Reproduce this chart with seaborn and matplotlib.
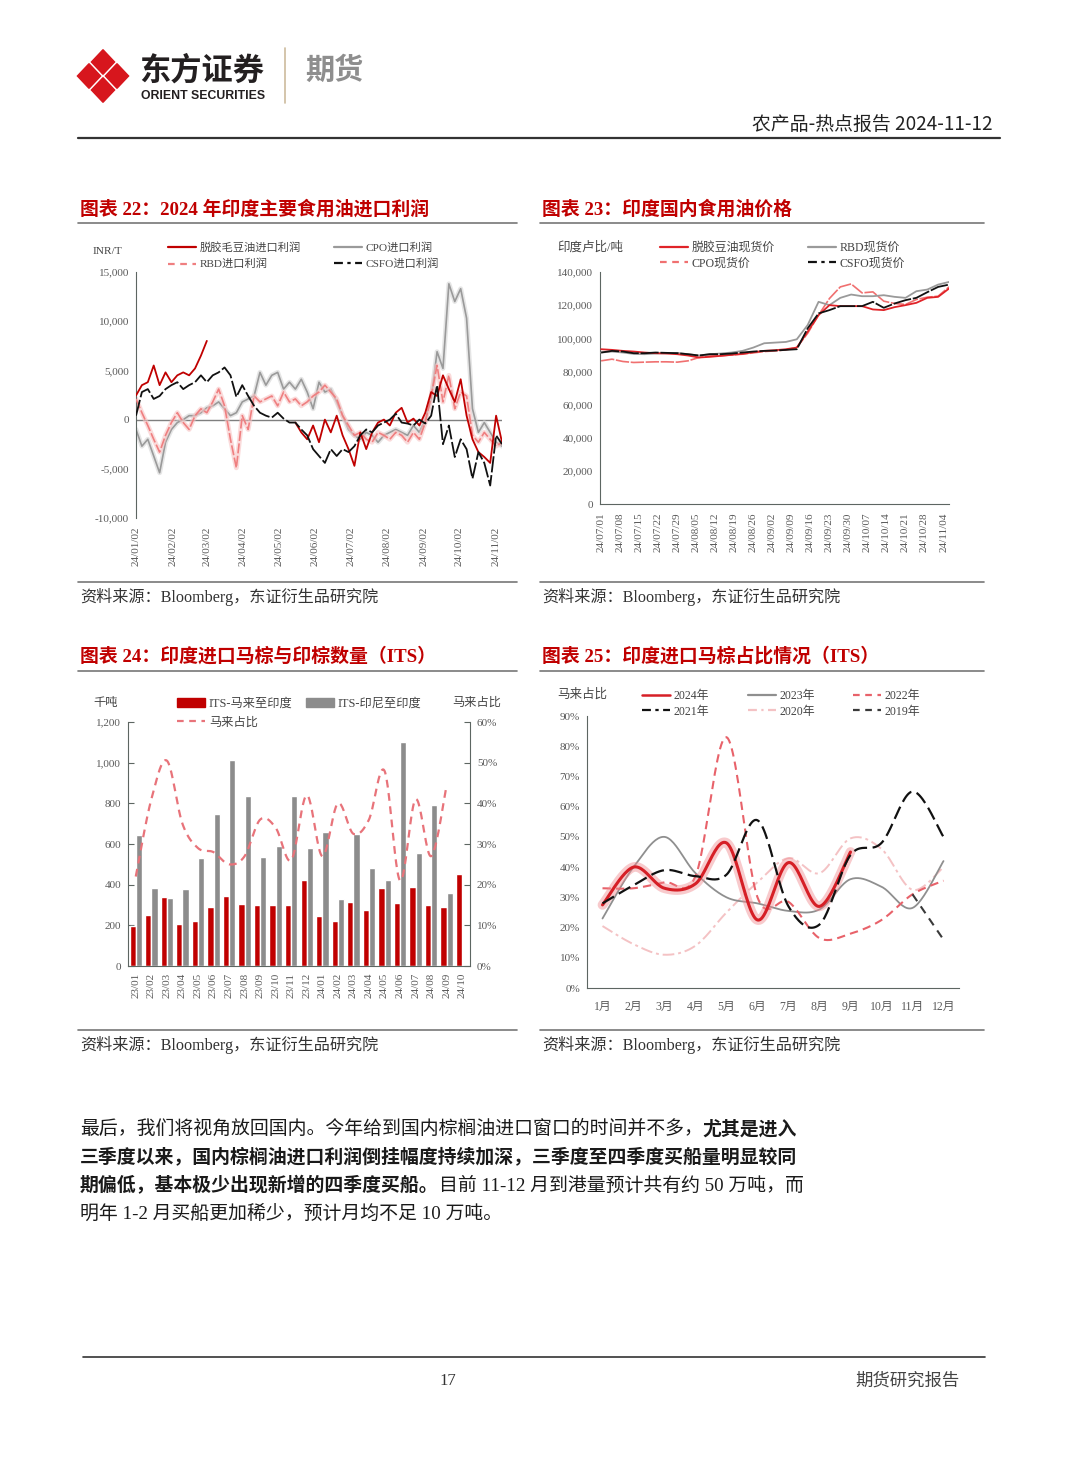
import numpy as np
import pandas as pd
import matplotlib
matplotlib.use('Agg')
import matplotlib.pyplot as plt
import matplotlib.ticker as mticker
import seaborn as sns
from matplotlib.lines import Line2D
from matplotlib.patches import Patch, Polygon
from matplotlib.font_manager import FontProperties

nan = np.nan

# ---------------- data: 图表22 印度主要食用油进口利润 (INR/T), every 5 days ----------------
dates22 = pd.date_range('2024-01-02', periods=63, freq='5D')
soy22 = [2450, 3500, 3800, 5500, 3500, 4800, 3800, 4500, 4800, 4500, 5200, 6500, 8000,
         nan, nan, nan, nan, nan, nan, nan, nan, nan, nan, nan, nan, nan, nan,
         -300, -1300, -2000, -600, -2300, 0, -1300, 400, -1600, -3000, -4700, -1300, -3000,
         -1300, -300, 0, -600, 700, 1200, -300, 100, -600, 700, 2800, 2400, 4500, 3100,
         1800, 4100, 400, -2000, -3300, -3800, -4400, 400, -2300]
cpo22 = [-1000, -2700, -2000, -3700, -5400, -2300, -1000, -300, 0, 400,
         400, 700, 1200, 1400, 1800, 1100, 400, 700, 1800, 2100,
         2400, 4800, 3500, 4500, 4800, 3100, 3800, 3100, 4100, 2800,
         1100, 3800, 2800, 3100, 1800, 400, -1000, -1600, -2000, -1300,
         -1600, -2300, -1600, -1300, -1000, -1300, -1600, -600, -1300, 0,
         2100, 6900, 5200, 13800, 12000, 13300, 10300, 1100, -1300, -300,
         -1300, -2300, -2700]
rbd22 = [2100, 700, -600, -2000, -3300, -1600, -300, 700, -300, -1000,
         400, 1100, 700, 1800, 3100, 1400, -2000, -4900, 400, -1000,
         2400, 1800, 2100, 2400, 1400, 2800, 1800, 2100, 1400, 1800,
         2400, 2800, 3500, 2800, 2100, 400, -600, -1600, -1300, -2000,
         -2300, -1300, -1600, -2000, -1300, -1600, -2300, -1300, -2000, -300,
         2400, 5500, 1800, 4500, 1100, 2800, 2400, -1600, -2300, -1300,
         -2000, -2700, -2300]
csfo22 = [400, 2800, 3100, 2100, 2400, 3100, 3500, 3800, 3100, 3500,
          3800, 4500, 3800, 4500, 4800, 5300, 4500, 2300, 3500, 2400,
          1400, 700, 400, 200, 700, 100, -300, -300, -1000, -1600,
          -3000, -3700, -4400, -3000, -3700, -3000, -3300, -2700, -1600, -1000,
          -1300, -600, -300, 0, 600, -300, -400, -600, 0, -400,
          400, 3500, -2500, -600, -3800, -2000, -3000, -6000, -3300, -4400,
          -6700, -1600, -2500]
ticks22 = [pd.Timestamp(2024, m, 2) for m in range(1, 12)]

# ---------------- data: 图表23 印度国内食用油价格 (印度卢比/吨), every 4 days ----------------
dates23 = pd.date_range('2024-07-01', periods=33, freq='4D')
soy23 = [93400, 93000, 92400, 92000, 91400, 91000, 90800, 90400, 89600, 88400,
         88800, 89400, 90000, 90600, 91600, 92400, 92800, 93400, 94400, 104000,
         114000, 120000, 119400, 119400, 119400, 117400, 117000, 118800, 120000, 121400,
         124400, 125000, 130000]
rbd23 = [91400, 92000, 91400, 90600, 90400, 90800, 91000, 91200, 90400, 89600,
         90400, 90800, 91400, 92400, 94400, 97000, 97400, 97800, 99400, 108000,
         122000, 120000, 124400, 126400, 125400, 125400, 126000, 125000, 124400, 128400,
         129400, 132400, 134000]
cpo23 = [86400, 87400, 86000, 85400, 85600, 85800, 85800, 85600, 86400, 88400,
         89400, 89400, 90000, 90400, 91200, 92000, 92400, 93000, 94400, 103000,
         114000, 124000, 131000, 132800, 127400, 128000, 122400, 121000, 120400, 123400,
         124800, 125400, 131000]
csfo23 = [91400, 92400, 92000, 91000, 91000, 91400, 91200, 91000, 90400, 89600,
          90400, 90400, 90800, 91400, 92000, 92400, 92600, 93000, 93400, 106000,
          115000, 117000, 119400, 119400, 119400, 122000, 118400, 121000, 123000, 124400,
          127800, 131000, 132400]
ticks23 = pd.date_range('2024-07-01', '2024-11-04', freq='7D')

# ---------------- data: 图表24 印度进口马棕与印棕数量 (千吨) ----------------
months24 = ['23/01', '23/02', '23/03', '23/04', '23/05', '23/06', '23/07', '23/08', '23/09', '23/10',
            '23/11', '23/12', '24/01', '24/02', '24/03', '24/04', '24/05', '24/06', '24/07', '24/08',
            '24/09', '24/10']
my_in = [195, 253, 339, 208, 220, 291, 344, 307, 301, 302, 302, 421, 246, 221, 316, 274, 385, 311,
         390, 298, 289, 453]
id_in = [645, 382, 336, 379, 531, 748, 1013, 836, 534, 592, 836, 582, 658, 331, 648, 481, 421, 1102,
         554, 792, 360, nan]
my_share = [22, 41, 50.5, 35, 29, 28, 25, 27, 36, 34, 26, 42, 27, 40, 32.5, 36, 48, 21, 41, 27, 44.5, nan]

# ---------------- data: 图表25 印度进口马棕占比 (%) ----------------
months25 = list(range(1, 13))
s2024 = [27.5, 40, 33, 34.5, 48, 22.5, 41.5, 27, 45, nan, nan, nan]
s2023 = [23, 40, 50, 38, 30, 28, 25.5, 26, 36, 33.5, 26.5, 42]
s2022 = [33, 33, 35, 37, 83, 30, 28.5, 16.5, 18, 22.5, 31, 35.5]
s2021 = [28, 34, 39, 37, 37.5, 55.5, 27, 21, 44, 48, 65, 50]
s2020 = [20.5, 14.5, 11, 14, 25, 35, 43, 38, 49.5, 46, 32.5, 40]
s2019 = [nan, nan, nan, nan, nan, nan, nan, nan, nan, nan, 31, 16]

# ---------------- style ----------------
sns.set_style('white')
MIX = ['Liberation Serif', 'Noto Sans CJK SC', 'DejaVu Sans']
plt.rcParams['font.family'] = MIX
plt.rcParams['axes.unicode_minus'] = False

W, H = 1080, 1466
fig = plt.figure(figsize=(10.8, 14.66), dpi=100)


def fx(x):
    return x / W


def fy(y):
    return 1 - y / H


def box(l, t, r, b):
    return [fx(l), fy(b), (r - l) / W, (b - t) / H]


def fp(size, bold=False, family=MIX):
    return FontProperties(family=family, size=size, weight='bold' if bold else 'normal')


def hline(x0, x1, y, color='#777777', lw=1.2):
    fig.add_artist(Line2D([fx(x0), fx(x1)], [fy(y), fy(y)], color=color, lw=lw,
                          transform=fig.transFigure))


def text(x, y, s, size, color='#222222', bold=False, ha='left', va='center', family=MIX):
    return fig.text(fx(x), fy(y), s, fontproperties=fp(size, bold, family), color=color,
                    ha=ha, va=va)


def segs(x, y):
    d = pd.DataFrame({'x': x, 'y': y})
    d['seg'] = d['y'].isna().cumsum()
    return d.dropna()


def catmull(xs, ys, n=24):
    pts = np.column_stack([xs, ys]).astype(float)
    if len(pts) < 3:
        return pts[:, 0], pts[:, 1]
    P = np.vstack([pts[0], pts, pts[-1]])
    t = np.linspace(0, 1, n, endpoint=False)[:, None]
    out = []
    for i in range(1, len(P) - 2):
        p0, p1, p2, p3 = P[i - 1], P[i], P[i + 1], P[i + 2]
        out.append(0.5 * (2 * p1 + (-p0 + p2) * t + (2 * p0 - 5 * p1 + 4 * p2 - p3) * t ** 2
                          + (-p0 + 3 * p1 - 3 * p2 + p3) * t ** 3))
    out.append(pts[-1:])
    out = np.vstack(out)
    return out[:, 0], out[:, 1]


def smooth_segs(x, y):
    d = segs(x, y)
    parts = []
    for k, g in d.groupby('seg'):
        sx, sy = catmull(g['x'].values, g['y'].values)
        parts.append(pd.DataFrame({'x': sx, 'y': sy, 'seg': k}))
    return pd.concat(parts, ignore_index=True)


def draw(ax, d, color, lw, ls='-', glow=None, z=2):
    kws = dict(data=d, x='x', y='y', units='seg', estimator=None, ax=ax, legend=False, sort=False)
    if glow:
        sns.lineplot(**kws, color=glow[0], lw=glow[1], alpha=glow[2], zorder=z - 0.5,
                     solid_capstyle='round')
    sns.lineplot(**kws, color=color, lw=lw, linestyle=ls, zorder=z)


def legend(handles, labels, x, y, size=8.1, spacing=0.45):
    fig.legend(handles, labels, loc='upper left', bbox_to_anchor=(fx(x), fy(y)),
               frameon=False, borderpad=0, borderaxespad=0, handlelength=2.7 * 7.5 / size,
               handletextpad=0.3, labelspacing=spacing, prop=fp(size), labelcolor='#444444')


SPINE = '#5d6662'
TICKC = '#5a5a5a'
TS = 8
thousands = mticker.FuncFormatter(lambda v, p: f'{v:,.0f}')
pct = mticker.FuncFormatter(lambda v, p: f'{v:.0f}%')

# ---------------- header ----------------
for cx, cy in [(103, 62), (103, 90), (89, 76), (117, 76)]:
    fig.add_artist(Polygon([(fx(cx), fy(cy - 12.3)), (fx(cx + 11.6), fy(cy)), (fx(cx), fy(cy + 12.3)),
                            (fx(cx - 11.6), fy(cy))], closed=True, color='#d7161d',
                           transform=fig.transFigure))
text(139, 71, '东方证券', 22.5, color='#231f20', bold=True, family=['Noto Sans CJK SC'])
text(141, 96, 'ORIENT SECURITIES', 8.8, color='#231f20', bold=True, family=['Liberation Sans'])
fig.add_artist(Line2D([fx(285), fx(285)], [fy(48), fy(103)], color='#cdbb9d', lw=1.2,
                      transform=fig.transFigure))
text(305, 70, '期货', 21, color='#8e8e8e', bold=True, family=['Noto Sans CJK SC'])
text(993, 124, '农产品-热点报告 2024-11-12', 13.6, color='#222222', ha='right',
     family=['Noto Sans CJK SC'])
hline(78, 1000, 138, color='#333333', lw=1.6)

# ---------------- titles / frames ----------------
titles = [(80, 209, '图表 22：2024 年印度主要食用油进口利润'), (542, 209, '图表 23：印度国内食用油价格'),
          (80, 656, '图表 24：印度进口马棕与印棕数量（ITS）'), (542, 656, '图表 25：印度进口马棕占比情况（ITS）')]
for x, y, s in titles:
    text(x, y, s, 13.6, color='#c00000', bold=True)
for x0, x1 in [(78, 517), (540, 984)]:
    for y in (223, 582, 671, 1030):
        hline(x0, x1, y)
    for y in (597, 1045):
        text(x0 + 2, y, '资料来源：Bloomberg，东证衍生品研究院', 11.6, color='#333333')

# ---------------- 图表22 ----------------
ax1 = fig.add_axes(box(136, 272, 502, 518))
draw(ax1, segs(dates22, cpo22), '#9a9a9a', 1.2, glow=('#d4d4d4', 3.5, 0.6), z=2)
draw(ax1, segs(dates22, rbd22), '#ef7f80', 1.2, ls=(0, (6, 1.5)), glow=('#f8c4c4', 3.5, 0.6), z=3)
draw(ax1, segs(dates22, soy22), '#c00000', 1.3, z=4)
draw(ax1, segs(dates22, csfo22), '#111111', 1.3, ls=(0, (9, 1.5)), z=5)
ax1.axhline(0, color='#7f7f7f', lw=1, zorder=1)
ax1.set_xlim(pd.Timestamp('2024-01-02'), pd.Timestamp('2024-11-07'))
ax1.set_ylim(-10000, 15000)
ax1.set_yticks(range(-10000, 15001, 5000))
ax1.yaxis.set_major_formatter(thousands)
ax1.set_xticks(ticks22)
ax1.set_xticklabels([t.strftime('%y/%m/%d') for t in ticks22])
ax1.tick_params(axis='y', direction='in', length=4, color=SPINE, labelsize=TS, labelcolor=TICKC, pad=5)
ax1.tick_params(axis='x', length=0, labelsize=TS, labelcolor=TICKC, pad=6, rotation=90)
for s in ('top', 'right', 'bottom'):
    ax1.spines[s].set_visible(False)
ax1.spines['left'].set_color(SPINE)
ax1.set_xlabel('')
ax1.set_ylabel('')
text(93, 252, 'INR/T', 8.2, color='#444444')
legend([Line2D([], [], color='#c00000', lw=1.6), Line2D([], [], color='#ef7f80', lw=1.6, ls=(0, (3, 2.5)))],
       ['脱胶毛豆油进口利润', 'RBD进口利润'], 168, 242, spacing=0.55)
legend([Line2D([], [], color='#9a9a9a', lw=1.6), Line2D([], [], color='#111111', lw=1.6, ls=(0, (4, 2, 1.5, 2)))],
       ['CPO进口利润', 'CSFO进口利润'], 334, 242, spacing=0.55)

# ---------------- 图表23 ----------------
ax2 = fig.add_axes(box(600, 272, 949, 504))
draw(ax2, segs(dates23, cpo23), '#f07070', 1.2, ls=(0, (8, 1)), z=2)
draw(ax2, segs(dates23, rbd23), '#9a9a9a', 1.3, z=3)
draw(ax2, segs(dates23, soy23), '#e02328', 1.3, z=4)
draw(ax2, segs(dates23, csfo23), '#111111', 1.3, ls=(0, (10, 1)), z=5)
ax2.set_xlim(pd.Timestamp('2024-06-30 14:00'), pd.Timestamp('2024-11-06'))
ax2.set_ylim(0, 140000)
ax2.set_yticks(range(0, 140001, 20000))
ax2.yaxis.set_major_formatter(thousands)
ax2.set_xticks(ticks23)
ax2.set_xticklabels([t.strftime('%y/%m/%d') for t in ticks23])
ax2.tick_params(axis='y', direction='in', length=4, color=SPINE, labelsize=TS, labelcolor=TICKC, pad=5)
ax2.tick_params(axis='x', direction='in', length=4, color=SPINE, labelsize=TS, labelcolor=TICKC,
                pad=6, rotation=90)
for s in ('top', 'right'):
    ax2.spines[s].set_visible(False)
for s in ('left', 'bottom'):
    ax2.spines[s].set_color(SPINE)
ax2.set_xlabel('')
ax2.set_ylabel('')
text(557, 247, '印度卢比/吨', 9, color='#444444')
legend([Line2D([], [], color='#e02328', lw=1.6), Line2D([], [], color='#f07070', lw=1.6, ls=(0, (3, 2.5)))],
       ['脱胶豆油现货价', 'CPO现货价'], 660, 242, size=8.6, spacing=0.3)
legend([Line2D([], [], color='#9a9a9a', lw=1.6), Line2D([], [], color='#111111', lw=1.6, ls=(0, (4, 2, 1.5, 2)))],
       ['RBD现货价', 'CSFO现货价'], 808, 242, size=8.6, spacing=0.3)

# ---------------- 图表24 ----------------
ax3 = fig.add_axes(box(128, 722, 470, 966))
df24 = pd.DataFrame({'月份': months24 * 2, '数量': my_in + id_in,
                     '系列': ['ITS-马来至印度'] * 22 + ['ITS-印尼至印度'] * 22})
sns.barplot(data=df24, x='月份', y='数量', hue='系列', order=months24,
            hue_order=['ITS-马来至印度', 'ITS-印尼至印度'],
            palette={'ITS-马来至印度': '#c00000', 'ITS-印尼至印度': '#8c8c8c'},
            width=0.8, gap=0, saturation=1, errorbar=None, legend=False, ax=ax3)
ax3.set_xlim(-0.5, 21.5)
ax3.set_ylim(0, 1200)
ax3.set_yticks(range(0, 1201, 200))
ax3.yaxis.set_major_formatter(thousands)
ax3.set_xticks(range(22))
ax3.set_xticklabels(months24)
ax3.set_xticks(np.arange(1.5, 21, 2), minor=True)
ax3.tick_params(axis='y', direction='in', length=4, color=SPINE, labelsize=TS, labelcolor=TICKC, pad=5)
ax3.tick_params(axis='x', which='major', length=0, labelsize=TS, labelcolor=TICKC, pad=5, rotation=90)
ax3.tick_params(axis='x', which='minor', direction='in', length=3, color='#888888')
ax3.spines['top'].set_visible(False)
ax3.spines['right'].set_visible(False)
for s in ('left', 'bottom'):
    ax3.spines[s].set_color(SPINE)
ax3.set_xlabel('')
ax3.set_ylabel('')
ax3r = ax3.twinx()
draw(ax3r, smooth_segs(np.arange(22), my_share), '#e8737a', 1.6, ls=(0, (3.5, 2.5)), z=3)
ax3r.set_ylim(0, 60)
ax3r.set_yticks(range(0, 61, 10))
ax3r.yaxis.set_major_formatter(pct)
ax3r.tick_params(axis='y', direction='in', length=4, color=SPINE, labelsize=TS, labelcolor=TICKC, pad=5)
for s in ('top', 'left', 'bottom'):
    ax3r.spines[s].set_visible(False)
ax3r.spines['right'].set_color(SPINE)
ax3r.set_ylabel('')
ax3r.set_xlim(-0.5, 21.5)
text(93, 703, '千吨', 8.8, color='#444444')
text(452, 703, '马来占比', 8.8, color='#444444')
legend([Patch(color='#c00000'), Line2D([], [], color='#e8737a', lw=1.6, ls=(0, (3, 2.5)))],
       ['ITS-马来至印度', '马来占比'], 177, 698, size=8.8, spacing=0.55)
legend([Patch(color='#8c8c8c')], ['ITS-印尼至印度'], 306, 698, size=8.8)

# ---------------- 图表25 ----------------
ax4 = fig.add_axes(box(587, 716, 959, 988))
draw(ax4, smooth_segs(months25, s2020), '#f4c2c4', 1.4, ls=(0, (6, 2, 1.5, 2)), z=2)
draw(ax4, smooth_segs(months25, s2023), '#8f8f8f', 1.3, z=3)
draw(ax4, smooth_segs(months25, s2022), '#e8626a', 1.5, ls=(0, (4, 2.5)), z=4)
draw(ax4, smooth_segs(months25, s2019), '#3a3a3a', 1.5, ls=(0, (4, 3)), z=4)
draw(ax4, smooth_segs(months25, s2024), '#d61f26', 2.2, glow=('#f08a8f', 7, 0.45), z=5)
draw(ax4, smooth_segs(months25, s2021), '#111111', 1.6, ls=(0, (6, 2.5)), z=6)
ax4.set_xlim(0.5, 12.5)
ax4.set_ylim(0, 90)
ax4.set_yticks(range(0, 91, 10))
ax4.yaxis.set_major_formatter(pct)
ax4.set_xticks(months25)
ax4.set_xticklabels([f'{m}月' for m in months25])
ax4.set_xticks(np.arange(0.5, 12.6, 1), minor=True)
ax4.tick_params(axis='y', direction='in', length=4, color=SPINE, labelsize=TS, labelcolor=TICKC, pad=5)
ax4.tick_params(axis='x', which='major', length=0, labelsize=8.5, labelcolor=TICKC, pad=9)
ax4.tick_params(axis='x', which='minor', direction='in', length=4, color=SPINE)
for s in ('top', 'right'):
    ax4.spines[s].set_visible(False)
for s in ('left', 'bottom'):
    ax4.spines[s].set_color(SPINE)
ax4.set_xlabel('')
ax4.set_ylabel('')
text(557, 695, '马来占比', 9, color='#444444')
legend([Line2D([], [], color='#d61f26', lw=1.8), Line2D([], [], color='#111111', lw=1.6, ls=(0, (4, 2, 1.5, 2)))],
       ['2024年', '2021年'], 642, 690, size=8.6, spacing=0.3)
legend([Line2D([], [], color='#8f8f8f', lw=1.6), Line2D([], [], color='#f4c2c4', lw=1.6, ls=(0, (4, 2, 1, 2)))],
       ['2023年', '2020年'], 748, 690, size=8.6, spacing=0.3)
legend([Line2D([], [], color='#e8626a', lw=1.6, ls=(0, (3, 2.5))), Line2D([], [], color='#3a3a3a', lw=1.6, ls=(0, (3, 2.5)))],
       ['2022年', '2019年'], 853, 690, size=8.6, spacing=0.3)

# ---------------- paragraph ----------------
para = [
    [('最后，我们将视角放回国内。今年给到国内棕榈油进口窗口的时间并不多，', False), ('尤其是进入', True)],
    [('三季度以来，国内棕榈油进口利润倒挂幅度持续加深，三季度至四季度买船量明显较同', True)],
    [('期偏低，基本极少出现新增的四季度买船。', True), ('目前 11-12 月到港量预计共有约 50 万吨，而', False)],
    [('明年 1-2 月买船更加稀少，预计月均不足 10 万吨。', False)],
]
renderer = fig.canvas.get_renderer()
for y, parts in zip([1129, 1157, 1186, 1214], para):
    x = 80
    for s, b in parts:
        t = text(x, y, s, 13.6, color='#1a1a1a', bold=b)
        x = t.get_window_extent(renderer).x1 * W / fig.bbox.width

# ---------------- footer ----------------
hline(83, 985, 1357, color='#333333', lw=1.2)
text(448, 1381, '17', 12, color='#333333', ha='center')
text(960, 1381, '期货研究报告', 12.5, color='#444444', ha='right', family=['Noto Sans CJK SC'])

fig.savefig('out.png', dpi=100)
